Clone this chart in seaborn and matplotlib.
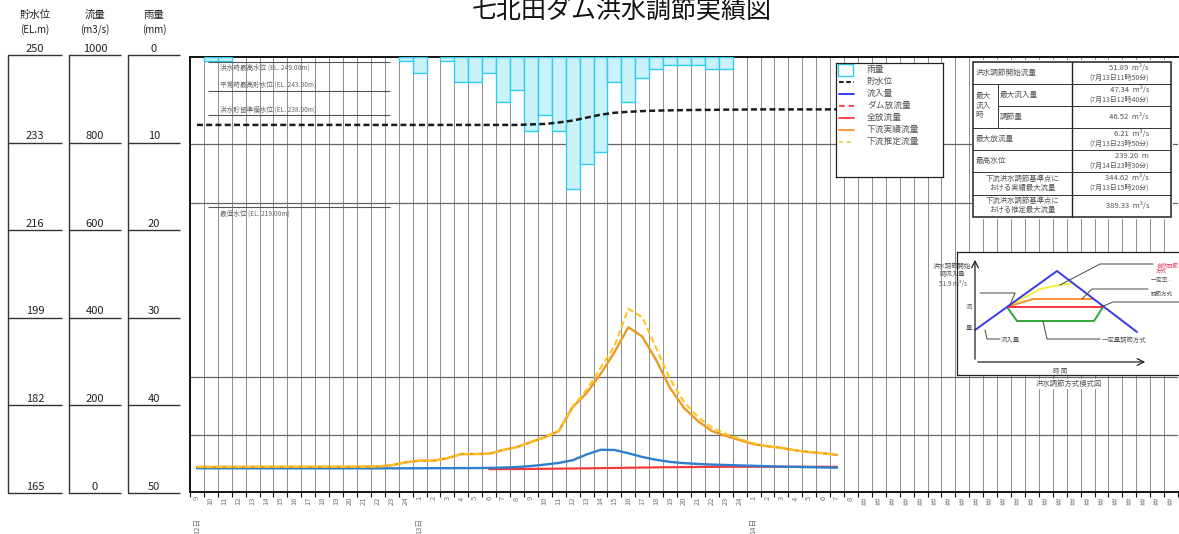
import numpy as np
import pandas as pd
import matplotlib
matplotlib.use("Agg")
import matplotlib.pyplot as plt
import matplotlib.transforms as mtransforms
from matplotlib.patches import Rectangle
import seaborn as sns

sns.set_theme(style="white")
plt.rcParams["font.family"] = ["Noto Sans CJK JP", "DejaVu Sans"]
plt.rcParams["axes.unicode_minus"] = False

# ---------------------------------------------------------------- data
# hourly slots: 12日 9時 ... 14日 8時, the axis then runs on with blank (##) slots
hour_labels = ([str(h) for h in range(9, 25)] + [str(h) for h in range(1, 25)]
               + [str(h) for h in range(1, 9)] + ["##"] * 23)
day_slots = [0, 16, 40]
day_labels = ["12日", "13日", "14日"]

# flows (m3/s), one value per hourly slot
inflow = [2.6, 2.6, 2.5, 2.5, 2.5, 2.5, 2.4, 2.4, 2.4, 2.4, 2.4, 2.4, 2.4, 2.4, 2.4,
          2.5, 2.6, 2.7, 2.8, 2.9, 3.0, 3.4, 4.2, 5.5, 8.0, 11.5, 15.5, 22.0, 36.0,
          47.34, 47.0, 39.0, 30.0, 23.0, 18.0, 15.0, 13.0, 11.5, 10.5, 9.5, 8.5,
          7.5, 6.5, 6.0, 5.2, 4.6, 4.0]
total_release = [None] * 21 + [0.5, 0.6, 0.8, 1.0, 1.3, 1.6, 2.0, 2.4, 2.9, 3.3, 3.8,
                               4.3, 4.7, 5.1, 5.4, 5.7, 5.9, 6.1, 6.21, 6.2, 6.2, 6.15,
                               6.1, 6.1, 6.05, 6.0]
downstream_actual = [5.8, 5.8, 5.9, 5.9, 6.0, 6.0, 6.0, 6.1, 6.1, 6.2, 6.2, 6.3, 6.5,
                     7.0, 10.0, 17.0, 21.0, 21.0, 27.0, 37.0, 37.0, 38.0, 47.0, 54.0,
                     66.0, 78.0, 93.0, 151.0, 185.0, 231.0, 284.0, 344.62, 322.0,
                     265.0, 197.0, 149.0, 117.0, 93.0, 81.0, 71.0, 61.0, 56.0, 52.0,
                     46.0, 42.0, 39.0, 35.0]
downstream_estimated = [5.8, 5.8, 5.9, 5.9, 6.0, 6.0, 6.0, 6.1, 6.1, 6.2, 6.2, 6.3, 6.5,
                        7.0, 10.0, 17.0, 21.0, 21.0, 27.0, 37.0, 37.0, 38.0, 47.0, 54.0,
                        66.0, 78.0, 93.0, 153.0, 192.0, 246.0, 299.0, 389.33, 369.0,
                        294.0, 219.0, 163.0, 127.0, 101.0, 86.0, 74.0, 63.0, 56.0, 52.0,
                        46.0, 42.0, 39.0, 35.0]
# reservoir water level (EL.m)
water_level = [236.0, 236.0, 236.0, 236.0, 236.0, 236.0, 236.0, 236.0, 236.0, 236.0,
               236.0, 236.0, 236.0, 236.0, 236.0, 236.0, 236.0, 236.0, 236.0, 236.0,
               236.0, 236.0, 236.0, 236.0, 236.1, 236.2, 236.5, 236.9, 237.5, 238.1,
               238.5, 238.7, 238.85, 238.95, 239.0, 239.05, 239.1, 239.1, 239.15,
               239.15, 239.2, 239.2, 239.2, 239.2, 239.2, 239.2, 239.2]
# hourly rainfall (mm)
rainfall = [0, 0.5, 0.5, 0, 0, 0, 0, 0, 0, 0, 0, 0, 0, 0, 0, 0.5, 2, 0, 0.5, 3, 3, 2,
            5.5, 4, 9, 7, 9, 16, 13, 11.5, 3, 5.5, 2.5, 1.5, 1, 1, 1, 1.5, 1.5]

# reservoir reference levels written inside the chart
reference_names = ["洪水時最高水位", "平常時最高貯水位", "洪水貯留準備水位", "最低水位"]
reference_levels = [249.0, 243.0, 238.0, 219.0]
guide_levels = [232.0, 220.0, 184.0, 172.0]

# side scales
level_ticks = [250, 233, 216, 199, 182, 165]
flow_ticks = [1000, 800, 600, 400, 200, 0]
rain_ticks = [0, 10, 20, 30, 40, 50]

# summary table
table_rows = [
    ("洪水調節開始流量", "51.89  m³/s", "(7月13日11時50分)"),
    ("最大流入量", "47.34  m³/s", "(7月13日12時40分)"),
    ("調節量", "46.52  m³/s", None),
    ("最大放流量", "6.21  m³/s", "(7月13日23時50分)"),
    ("最高水位", "239.20  m", "(7月14日23時30分)"),
    ("下流洪水調節基準点に\nおける実績最大流量", "344.62  m³/s", "(7月13日15時20分)"),
    ("下流洪水調節基準点に\nおける推定最大流量", "389.33  m³/s", None),
]

legend_names = ["雨量", "貯水位", "流入量", "ダム放流量", "全放流量", "下流実績流量", "下流推定流量"]

# ---------------------------------------------------------------- styles
W, H = 1179, 534
BLUE = "#2d7fcc"
RED = "#f23b3b"
ORANGE = "#eb9a25"
YELLOW = "#ffc51c"
RAIN_FILL = "#c9f2fb"
RAIN_EDGE = "#2fcdef"
GRID = "#8e8e8e"
TXT = "#555555"


def box(x0, y0, x1, y1):
    """figure-fraction rectangle from pixel edges (origin top-left)"""
    return [x0 / W, 1 - y1 / H, (x1 - x0) / W, (y1 - y0) / H]


fig = plt.figure(figsize=(W / 100, H / 100), dpi=100)
fig.patch.set_facecolor("white")

fig.text(622 / W, 1 - 11 / H, "七北田ダム洪水調節実績図", ha="center", va="center",
         fontsize=18, color="#111111")

# ---------------------------------------------------------------- side scales
scales = [
    ((8, 62), (165, 250), level_ticks, "貯水位", "(EL.m)"),
    ((69, 121), (0, 1000), flow_ticks, "流量", "(m3/s)"),
    ((128, 180), (50, 0), rain_ticks, "雨量", "(mm)"),
]
for (x0, x1), lim, ticks, head, unit in scales:
    sa = fig.add_axes(box(x0, 55, x1, 493))
    sa.set_xlim(0, 1)
    sa.set_ylim(*lim)
    sa.axis("off")
    sa.plot([0, 0], [lim[0], lim[1]], color="#333", lw=1.0, clip_on=False)
    sa.hlines(ticks, 0, 1, colors="#333", lw=1.0, clip_on=False)
    for t in ticks:
        sa.annotate(str(t), (0.5, t), xytext=(0, 1), textcoords="offset points",
                    ha="center", va="bottom", fontsize=8, color="#222",
                    annotation_clip=False)
    cx = (x0 + x1) / 2 / W
    fig.text(cx, 1 - 15 / H, head, ha="center", va="center", fontsize=7.5, color="#222")
    fig.text(cx, 1 - 30 / H, unit, ha="center", va="center", fontsize=7, color="#222")

# ---------------------------------------------------------------- main chart
n = len(inflow)
df = pd.DataFrame({
    "slot": np.arange(n),
    "inflow": inflow,
    "total_release": pd.array(total_release, dtype="Float64").astype(float),
    "downstream_actual": downstream_actual,
    "downstream_estimated": downstream_estimated,
    "water_level": water_level,
})
rain_df = pd.DataFrame({"slot": np.arange(len(rainfall)), "rain": rainfall})
rain_df = rain_df[rain_df["rain"] > 0]

ax = fig.add_axes(box(190, 57, 1178, 492))
ax_rn = ax.twinx()
ax_lv = ax.twinx()

n_slots = len(hour_labels)
xlim = (-0.5, n_slots - 0.5)
flow_lim = (-55, 1000)
# the level and rain scales line up with the flow scale: 0 m3/s = 165 m = 50 mm
level_lim = (165 + flow_lim[0] * 0.085, 250)
rain_lim = (50 - flow_lim[0] * 0.05, 0)

ax.vlines(np.arange(-0.5, n_slots, 1), flow_lim[0], flow_lim[1], colors=GRID, lw=0.7, zorder=0)
ax.hlines(guide_levels, 0, 1, colors="#666", lw=0.9, zorder=0.5,
          transform=mtransforms.blended_transform_factory(ax.transAxes, ax_lv.transData))

sns.lineplot(data=df, x="slot", y="total_release", ax=ax, color=RED, lw=1.6, legend=False)
sns.lineplot(data=df, x="slot", y="inflow", ax=ax, color=BLUE, lw=1.7, legend=False)
sns.lineplot(data=df, x="slot", y="downstream_actual", ax=ax, color=ORANGE, lw=1.7, legend=False)
sns.lineplot(data=df, x="slot", y="downstream_estimated", ax=ax, color=YELLOW, lw=1.5, legend=False)
ax.lines[-1].set_dashes([3, 1.6])

sns.barplot(data=rain_df, x="slot", y="rain", native_scale=True, width=1.0,
            color=RAIN_FILL, edgecolor=RAIN_EDGE, linewidth=1.0, saturation=1,
            errorbar=None, ax=ax_rn)

sns.lineplot(data=df, x="slot", y="water_level", ax=ax_lv, color="#1c1c1c", lw=1.8, legend=False)
ax_lv.lines[-1].set_dashes([2.4, 1.3])

ax_lv.hlines(reference_levels, 0.8, 13.9, colors="#555", lw=0.8)
text_above = [False, True, True, False]
for name, lv, above in zip(reference_names, reference_levels, text_above):
    ax_lv.annotate(f"{name} (EL. {lv:.2f}m)", (1.66, lv),
                   xytext=(0, 1.5 if above else -1.5), textcoords="offset points",
                   ha="left", va="bottom" if above else "top", fontsize=4.8, color="#666")

for a in (ax, ax_rn, ax_lv):
    a.set_xlim(*xlim)
    a.set_xlabel("")
    a.set_ylabel("")
    a.set_yticks([])
ax.set_ylim(*flow_lim)
ax_rn.set_ylim(*rain_lim)
ax_lv.set_ylim(*level_lim)
for a in (ax_rn, ax_lv):
    for s in a.spines.values():
        s.set_visible(False)
    a.tick_params(axis="x", which="both", bottom=False, labelbottom=False)

for side in ("top", "left", "bottom"):
    ax.spines[side].set_visible(True)
    ax.spines[side].set_color("#111")
    ax.spines[side].set_linewidth(1.4)
ax.spines["right"].set_visible(False)
ax.set_facecolor("white")

ax.set_xticks(np.arange(-0.5, n_slots, 1))
ax.set_xticklabels([])
ax.set_xticks(np.arange(n_slots), minor=True)
ax.set_xticklabels(hour_labels, minor=True, rotation=90)
ax.tick_params(axis="x", which="major", bottom=True, length=3.5, width=0.8,
               color="#111", direction="out")
ax.tick_params(axis="x", which="minor", bottom=True, length=0, pad=3,
               labelsize=5.5, labelcolor="#777")
day_tf = mtransforms.blended_transform_factory(ax.transData, ax.transAxes)
for s, lab in zip(day_slots, day_labels):
    ax.text(s, -0.06, lab, transform=day_tf, rotation=90, ha="center", va="top",
            fontsize=5.5, color="#777")

# ---------------------------------------------------------------- legend box
lg = fig.add_axes(box(836, 63, 943, 177))
lg.set_xlim(836, 943)
lg.set_ylim(177, 63)
lg.set_xticks([])
lg.set_yticks([])
lg.set_facecolor("white")
for s in lg.spines.values():
    s.set_color("#222")
    s.set_linewidth(0.9)
legend_styles = [
    None,
    dict(color="#1c1c1c", dashes=[2.4, 1.3]),
    dict(color="#3b3bff"),
    dict(color="#ff4a4a", dashes=[3, 2]),
    dict(color="#ff4a4a"),
    dict(color="#ff9a3c"),
    dict(color="#e6da4c", dashes=[2, 2]),
]
row_y = [69.5, 81.5, 93.5, 105.5, 117.5, 129.5, 141.5]
for name, style, y in zip(legend_names, legend_styles, row_y):
    if style is None:
        lg.add_patch(Rectangle((838, 64), 15, 12, fill=False, ec=RAIN_EDGE, lw=1.0))
    else:
        ln, = lg.plot([839, 854], [y, y], lw=1.4, color=style["color"])
        if "dashes" in style:
            ln.set_dashes(style["dashes"])
    lg.text(867, y, name, ha="left", va="center", fontsize=6.3, color=TXT)

# ---------------------------------------------------------------- summary table
tb = fig.add_axes(box(972, 60, 1173, 219))
tb.set_xlim(972, 1173)
tb.set_ylim(219, 60)
tb.axis("off")
tb.add_patch(Rectangle((972, 60), 201, 159, fc="white", ec="none"))
row_edges = [62, 83.5, 106, 128, 149.5, 172, 194.5, 217]
x_l, x_sub, x_mid, x_r = 973, 997.5, 1072, 1171
tb.add_patch(Rectangle((x_l, row_edges[0]), x_r - x_l, row_edges[-1] - row_edges[0],
                       fill=False, ec="#222", lw=1.1))
tb.plot([x_mid, x_mid], [row_edges[0], row_edges[-1]], color="#222", lw=1.0)
for i, yy in enumerate(row_edges[1:-1], start=1):
    x_start = x_sub if i == 2 else x_l
    tb.plot([x_start, x_r], [yy, yy], color="#333", lw=0.7)
tb.plot([x_sub, x_sub], [row_edges[1], row_edges[3]], color="#333", lw=0.7)
tb.text(x_l + 2.5, (row_edges[1] + row_edges[3]) / 2, "最大\n流入\n時", ha="left",
        va="center", fontsize=5.5, color=TXT, linespacing=1.25)

for i, (head, val, when) in enumerate(table_rows):
    top, bot = row_edges[i], row_edges[i + 1]
    mid = (top + bot) / 2
    if "\n" in head:
        tb.text((x_l + x_mid) / 2, mid, head, ha="center", va="center", fontsize=5.3,
                color=TXT, linespacing=1.2)
    else:
        hx = x_sub + 2.5 if i in (1, 2) else x_l + 2.5
        tb.text(hx, mid, head, ha="left", va="center", fontsize=5.5, color=TXT)
    if when is None:
        tb.text(1149, mid, val, ha="right", va="center", fontsize=5.5, color=TXT)
    else:
        tb.text(1149, mid - 4.8, val, ha="right", va="center", fontsize=5.5, color=TXT)
        tb.text(1149, mid + 4.6, when, ha="right", va="center", fontsize=5.0, color=TXT)

# ---------------------------------------------------------------- control-scheme sketch
# schematic polylines, in pixel units of the sketch panel
sketch_inflow = ([975, 1057, 1137], [330, 271, 332])
sketch_natural = ([1007, 1020, 1040, 1060, 1073], [307, 300, 289, 285, 283])
sketch_rate = ([1007, 1033, 1094], [307, 299, 299])
sketch_constant = ([1007, 1103], [307, 307])
sketch_fixed = ([1007, 1017, 1094, 1103], [307, 321, 321, 307])

sk = fig.add_axes(box(957, 252, 1179, 375))
sk.set_xlim(957, 1179)
sk.set_ylim(375, 252)
sk.set_xticks([])
sk.set_yticks([])
sk.set_facecolor("white")
for side, s in sk.spines.items():
    s.set_color("#222")
    s.set_linewidth(0.9)
    s.set_visible(side != "right")

sk.annotate("", xy=(975, 257), xytext=(975, 362),
            arrowprops=dict(arrowstyle="->", lw=0.9, color="#222"))
sk.annotate("", xy=(1148, 362), xytext=(975, 362),
            arrowprops=dict(arrowstyle="->", lw=0.9, color="#222"))

sk.plot(*sketch_natural, color="#f2ee3a", lw=1.4)
sk.plot(*sketch_rate, color="#ff8f33", lw=1.4)
sk.plot(*sketch_fixed, color="#2fa83a", lw=1.4)
sk.plot(*sketch_constant, color="#ff3340", lw=1.4)
sk.plot(*sketch_inflow, color="#3a3ae8", lw=1.4)

leader_kw = dict(color="#444", lw=0.7)
sk.plot([1060, 1100, 1153], [285, 264, 264], **leader_kw)
sk.plot([1082, 1092, 1148], [299, 289, 289], **leader_kw)
sk.plot([1101, 1113, 1179], [307, 302, 302], **leader_kw)
sk.plot([1043, 1047, 1100], [321, 339, 339], **leader_kw)
sk.plot([980, 1015, 1010], [293, 293, 305], **leader_kw)
sk.plot([985, 987, 1000], [330, 339, 339], **leader_kw)

small = dict(fontsize=4.6, color=TXT)
sk.text(952, 266, "洪水調節開始", ha="center", va="center", **small)
sk.text(952, 274, "時流入量", ha="center", va="center", **small)
sk.text(953, 284, "51.9 m³/s", ha="center", va="center", **small)
sk.text(969, 307, "流", ha="center", va="center", **small)
sk.text(969, 328, "量", ha="center", va="center", **small)
sk.text(1001, 339, "流入量", ha="left", va="center", **small)
sk.text(1060, 371, "時 間", ha="center", va="center", **small)
sk.text(1156, 268, "自然調節\n方式", ha="left", va="center", fontsize=4.0,
        color="#e8406a", linespacing=1.1)
sk.text(1151, 280, "一定率·", ha="left", va="center", fontsize=4.2, color=TXT)
sk.text(1151, 294, "調節方式", ha="left", va="center", fontsize=4.0, color=TXT)
sk.text(1102, 340, "一定量調節方式", ha="left", va="center", **small)
for t in sk.texts:
    t.set_clip_on(False)
fig.text(1069 / W, 1 - 384 / H, "洪水調節方式模式図", ha="center", va="center",
         fontsize=5.3, color=TXT, bbox=dict(facecolor="white", edgecolor="none", pad=0.6))

fig.savefig("out.png", dpi=100, facecolor="white")
